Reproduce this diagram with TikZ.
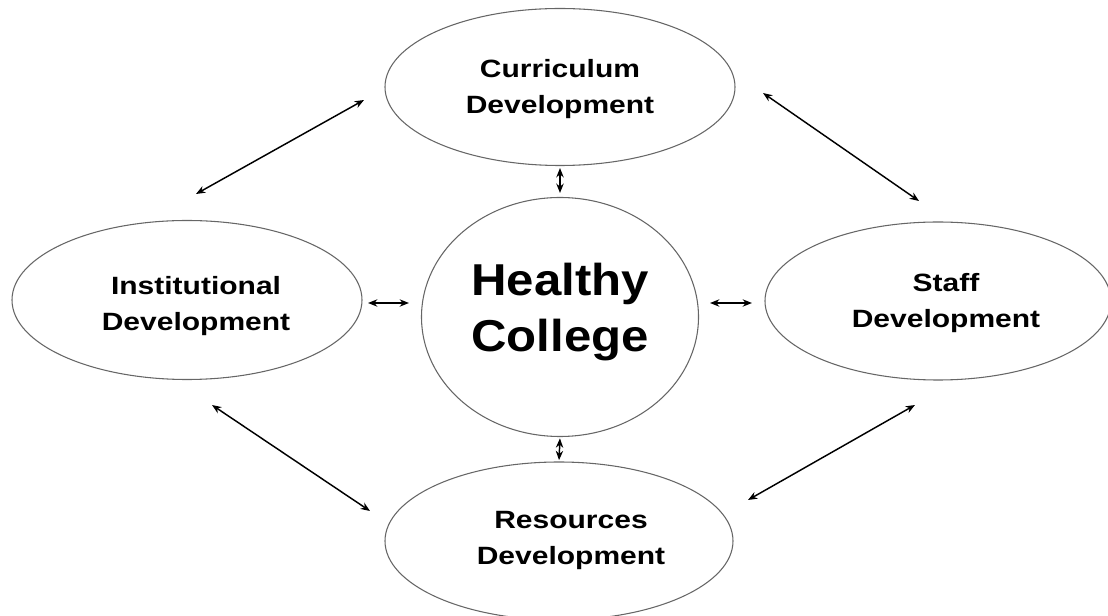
\documentclass[tikz,border=0pt]{standalone}
\usepackage{fontspec}
\usetikzlibrary{shapes.geometric,arrows.meta}
\newfontfamily\lblfont{Liberation Sans}[FakeStretch=1.2]
\newfontfamily\bigfont{Liberation Sans}[FakeStretch=1.1]
\begin{document}
\begin{tikzpicture}[x=0.75pt,y=-0.75pt,
  oval/.style={ellipse, draw=black!60, line width=0.8pt, inner sep=0pt},
  lbl/.style={align=center, font=\lblfont\bfseries\fontsize{18.75}{27}\selectfont},
  big/.style={align=center, font=\bigfont\bfseries\fontsize{33.5}{42}\selectfont},
  arr/.style={{Stealth[length=7pt,width=5.5pt]}-{Stealth[length=7pt,width=5.5pt]}, line width=1.1pt}]
\useasboundingbox (0,0) rectangle (1108,616);
% ellipses
\node[oval, minimum width=262.5pt, minimum height=117.75pt] (cur) at (560,87) {};
\node[oval, minimum width=262.5pt, minimum height=119.25pt] (inst) at (187,300) {};
\node[oval, minimum width=259.5pt, minimum height=118.5pt] (staff) at (938,301) {};
\node[oval, minimum width=261pt, minimum height=118.5pt] (res) at (559,541) {};
\node[oval, minimum width=207.75pt, minimum height=179.25pt] (hc) at (560,317) {};
% labels
\node[lbl] (curT) at (560,89) {Curriculum\\Development};
\node[lbl] (instT) at (196,306) {Institutional\\Development};
\node[lbl] (staffT) at (946,303) {Staff\\Development};
\node[lbl] (resT) at (571,540) {Resources\\Development};
\node[big] (hcT) at (560,312) {Healthy\\College};
% free ends of the connectors
\coordinate (a1) at (364,100);
\coordinate (a2) at (196,194);
\coordinate (b1) at (763,93);
\coordinate (b2) at (919,201);
\coordinate (c1) at (212,405);
\coordinate (c2) at (370,511);
\coordinate (d1) at (915,405);
\coordinate (d2) at (748,500);
\coordinate (l1) at (368,303);
\coordinate (l2) at (409,303);
\coordinate (r1) at (710,303);
\coordinate (r2) at (752,303);
\draw[arr] (a1) -- (a2);
\draw[arr] (b1) -- (b2);
\draw[arr] (c1) -- (c2);
\draw[arr] (d1) -- (d2);
\draw[arr] (l1) -- (l2);
\draw[arr] (r1) -- (r2);
% center connectors
\draw[arr, shorten <=1.5pt, shorten >=3pt] (cur.south) -- (hc.north);
\draw[arr, shorten <=1pt, shorten >=1pt] (hc.south) -- (res.north);
\end{tikzpicture}
\end{document}
